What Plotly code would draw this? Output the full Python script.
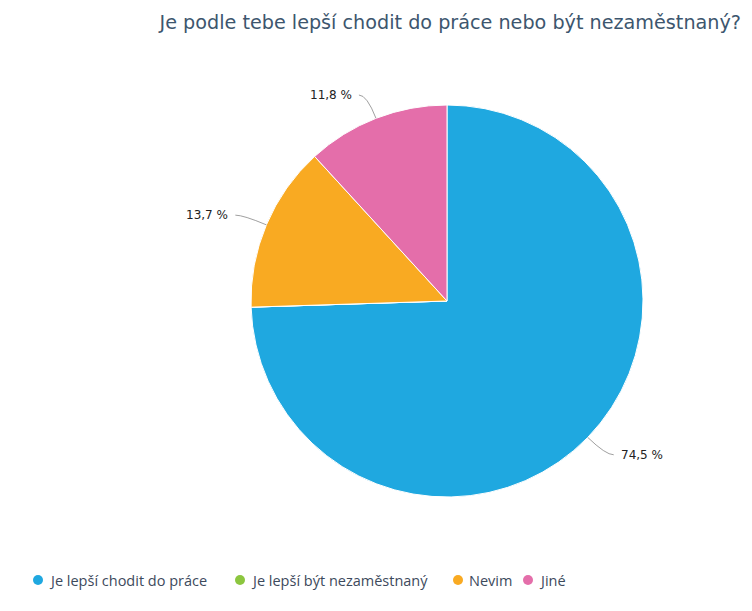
import math
import plotly.graph_objects as go

# ---- data ----
labels = ["Je lepší chodit do práce", "Je lepší být nezaměstnaný", "Nevim", "Jiné"]
values = [74.5, 0.0, 13.7, 11.8]
value_text = ["74,5 %", "0 %", "13,7 %", "11,8 %"]
colors = ["#1fa8e0", "#8cc63f", "#f9aa22", "#e46eaa"]
title_text = "Je podle tebe lepší chodit do práce nebo být nezaměstnaný?"

OFF = 8  # page offset of the figure in the screenshot
W, H = 752 - OFF, 611 - OFF
CX, CY, R = 447, 301, 196  # pie geometry in screenshot pixels


def px(x):
    return (x - OFF) / W


def py(y):
    return 1 - (y - OFF) / H


fig = go.Figure()
fig.add_trace(go.Pie(
    labels=labels, values=values, sort=False, direction="clockwise", rotation=0,
    marker=dict(colors=colors, line=dict(color="white", width=1)),
    textinfo="none", hoverinfo="label+percent", showlegend=False,
    domain=dict(x=[px(CX - R), px(CX + R)], y=[py(CY + R), py(CY - R)]),
))

shapes = []
annotations = []

# slice labels with connectors (computed from values)
total = sum(values)
cum = 0.0
for v, t in zip(values, value_text):
    start = cum
    cum += v
    if v <= 0:
        continue
    mid = (start + v / 2) / total * 2 * math.pi
    dx, dy = math.sin(mid), -math.cos(mid)
    x0, y0 = CX + R * dx, CY + R * dy
    x1, y1 = CX + (R + 25) * dx, CY + (R + 25) * dy
    side = 1 if dx >= 0 else -1
    x2 = x1 + side * 8
    shapes.append(dict(
        type="path", xref="paper", yref="paper",
        path=f"M {px(x0)},{py(y0)} Q {px(x1)},{py(y1)} {px(x2)},{py(y1)}",
        line=dict(color="#a0a0a0", width=1),
    ))
    annotations.append(dict(
        x=px(x2 + side * 5), y=py(y1), xref="paper", yref="paper",
        xanchor="left" if side > 0 else "right", yanchor="middle", showarrow=False,
        text=t, font=dict(family="DejaVu Sans", size=12, color="#222222"),
    ))

# legend (manual, circular symbols)
legend_x = [38, 240, 458, 528]
LEG_Y = 580
for lx, lab, c in zip(legend_x, labels, colors):
    shapes.append(dict(
        type="circle", xref="paper", yref="paper",
        x0=px(lx - 5), x1=px(lx + 5), y0=py(LEG_Y + 5), y1=py(LEG_Y - 5),
        fillcolor=c, line=dict(width=0),
    ))
    annotations.append(dict(
        x=px(lx + 9), y=py(LEG_Y), xref="paper", yref="paper",
        xanchor="left", yanchor="middle", showarrow=False,
        text=lab, font=dict(family="Open Sans", size=14.5, color="#3d4a5c"),
    ))

fig.update_layout(
    width=W, height=H,
    margin=dict(l=0, r=0, t=0, b=0),
    paper_bgcolor="white", plot_bgcolor="white",
    title=dict(text=title_text, x=px(741), xanchor="right", y=py(22), yanchor="middle",
               xref="paper", yref="paper",
               font=dict(family="DejaVu Sans", size=19.2, color="#3d566e")),
    shapes=shapes, annotations=annotations,
)

fig.write_html("out.html")
